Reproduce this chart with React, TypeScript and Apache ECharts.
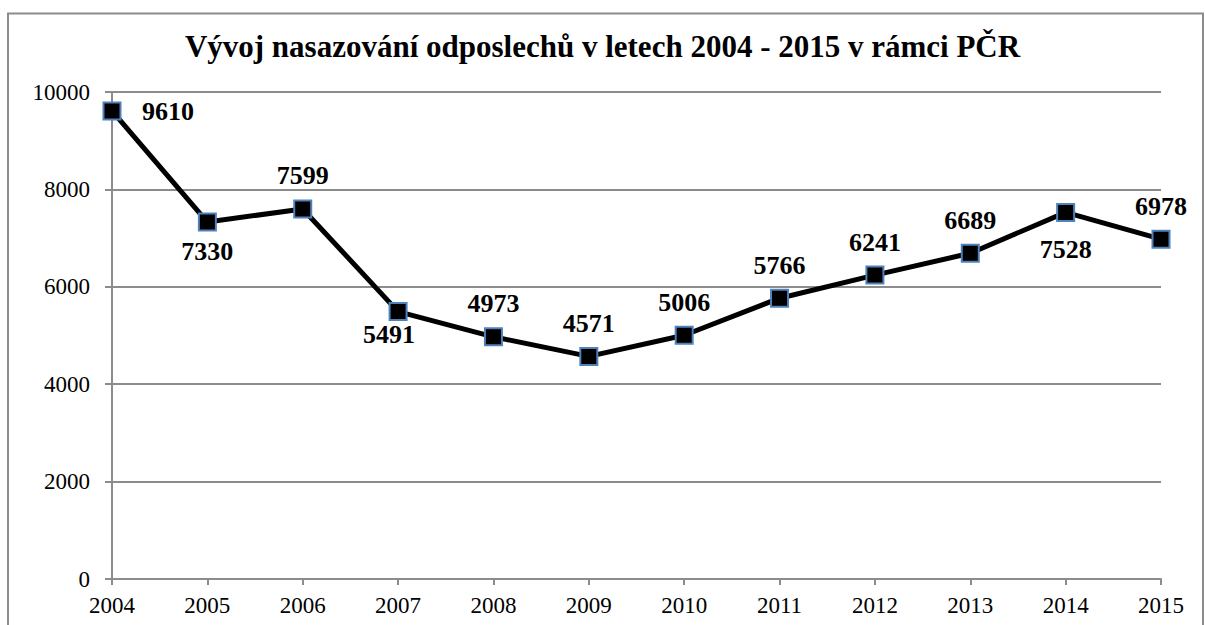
import { useEffect, useRef } from "react";
import * as echarts from "echarts";

const titleText = "Vývoj nasazování odposlechů v letech 2004 - 2015 v rámci PČR";
const years = ["2004", "2005", "2006", "2007", "2008", "2009", "2010", "2011", "2012", "2013", "2014", "2015"];
const values = [9610, 7330, 7599, 5491, 4973, 4571, 5006, 5766, 6241, 6689, 7528, 6978];
const labelPlacement = ["right", "below", "above", "belowLeft", "above", "above", "above", "above", "above", "above", "belowFar", "above"];
const yMin = 0;
const yMax = 10000;
const yInterval = 2000;

const placementOffsets: Record<string, number[]> = {
  above: [0, -33],
  below: [0, 29],
  right: [56, 1],
  belowLeft: [-9, 23],
  belowFar: [0, 37],
};

export default function App() {
  const ref = useRef<HTMLDivElement>(null);
  useEffect(() => {
    if (!ref.current) return;
    const chart = echarts.init(ref.current, null, { renderer: "svg" });
    const serif = "'Liberation Serif', 'Times New Roman', serif";
    chart.setOption({
      animation: false,
      backgroundColor: "#ffffff",
      textStyle: { fontFamily: serif },
      title: {
        text: titleText,
        left: "center",
        top: 26,
        textStyle: { fontFamily: serif, fontWeight: "bold", fontSize: 31, color: "#000" },
      },
      graphic: [
        {
          type: "rect",
          shape: { x: 8, y: 13.5, width: 1195, height: 700 },
          style: { fill: "none", stroke: "#8c8c8c", lineWidth: 2 },
          z: -1,
          silent: true,
        },
      ],
      grid: { left: 112, right: 44, top: 92, bottom: 46, containLabel: false },
      xAxis: {
        type: "category",
        data: years,
        boundaryGap: false,
        axisLine: { show: true, lineStyle: { color: "#8c8c8c", width: 2 } },
        axisTick: { show: true, alignWithLabel: true, length: 6, lineStyle: { color: "#8c8c8c", width: 2 } },
        axisLabel: { fontFamily: serif, fontSize: 23, fontWeight: "normal", color: "#000", margin: 15 },
        splitLine: { show: false },
      },
      yAxis: {
        type: "value",
        min: yMin,
        max: yMax,
        interval: yInterval,
        axisLine: { show: true, lineStyle: { color: "#8c8c8c", width: 2 } },
        axisTick: { show: true, length: 7, lineStyle: { color: "#8c8c8c", width: 2 } },
        axisLabel: {
          fontFamily: serif,
          fontSize: 23,
          fontWeight: "normal",
          color: "#000",
          margin: 22,
          formatter: (v: number) => String(v),
        },
        splitLine: { show: true, lineStyle: { color: "#8c8c8c", width: 2 } },
      },
      series: [
        {
          type: "line",
          data: values.map((v, i) => ({
            value: v,
            label: { offset: placementOffsets[labelPlacement[i]] },
          })),
          symbol: "rect",
          symbolSize: 17,
          lineStyle: { color: "#000", width: 5 },
          itemStyle: { color: "#000", borderColor: "#4f81bd", borderWidth: 2 },
          label: {
            show: true,
            position: "inside",
            fontFamily: serif,
            fontWeight: "bold",
            fontSize: 26,
            color: "#000",
            textBorderWidth: 0,
          },
          z: 3,
        },
      ],
    });
    return () => chart.dispose();
  }, []);
  return <div ref={ref} style={{ position: "absolute", left: 0, top: 0, width: 1205, height: 625 }} />;
}
